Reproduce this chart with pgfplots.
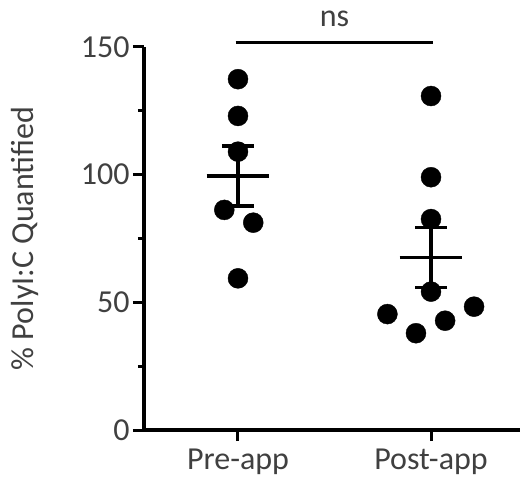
\documentclass[border=0pt]{standalone}
\usepackage{pgfplots}
\pgfplotsset{compat=1.18}
\usepackage{fontspec}
\setmainfont{Carlito}
\definecolor{txt}{RGB}{64,64,64}
\begin{document}
\begin{tikzpicture}
\begin{axis}[
  name=ax,
  scale only axis,
  width=376bp, height=383bp,
  xmin=-0.487, xmax=1.461,
  ymin=0, ymax=150,
  axis lines=left,
  axis line style={-, line width=3.5bp, black},
  clip=false,
  xtick={0,1},
  xticklabels={Pre-app,Post-app},
  ytick={0,50,100,150},
  minor ytick={25,75,125},
  tick align=outside,
  major tick length=11bp,
  minor tick length=6bp,
  every tick/.style={black, line width=3bp},
  tick label style={font=\fontsize{32bp}{38bp}\selectfont, text=txt},
  xticklabel style={yshift=-4bp},
  /pgf/number format/assume math mode=true,
  ylabel={\% PolyI:C Quantified},
  every axis y label/.style={at={(axis description cs:-0.3165,0.5)}, rotate=90, anchor=center, font=\fontsize{32bp}{38bp}\selectfont, text=txt},
]
% individual points
\addplot[only marks, mark=*, mark size=10bp, black] coordinates {
  (0,137.4) (0,123) (0,109) (-0.071,86.2) (0.079,81.2) (0,59.4)
};
\addplot[only marks, mark=*, mark size=10bp, black] coordinates {
  (1,130.8) (1,99) (1,82.6) (1,54.2) (0.774,45.4) (0.922,37.9) (1.073,42.8) (1.223,48.3)
};
% means
\addplot[black, line width=3.5bp] coordinates {(-0.163,99.5) (0.163,99.5)};
\addplot[black, line width=3.5bp] coordinates {(0.837,67.6) (1.163,67.6)};
% SEM
\addplot[draw=none, mark=none,
  error bars/.cd, y dir=both, y explicit,
  error bar style={line width=3.5bp, black},
  error mark options={rotate=90, mark size=16bp, line width=3.5bp, black}]
  coordinates {(0,99.5) +- (0,11.8) (1,67.6) +- (0,11.7)};
% significance bar
\addplot[black, line width=3.5bp] coordinates {(-0.012,151.7) (1.012,151.7)};
\node[anchor=base, text=txt, font=\fontsize{32bp}{38bp}\selectfont] at (axis cs:0.5,158.2) {ns};
\end{axis}
\pgfresetboundingbox
\path[use as bounding box] ([xshift=-144bp,yshift=-55bp]ax.south west) rectangle ([xshift=2bp,yshift=47bp]ax.north east);
\end{tikzpicture}
\end{document}
